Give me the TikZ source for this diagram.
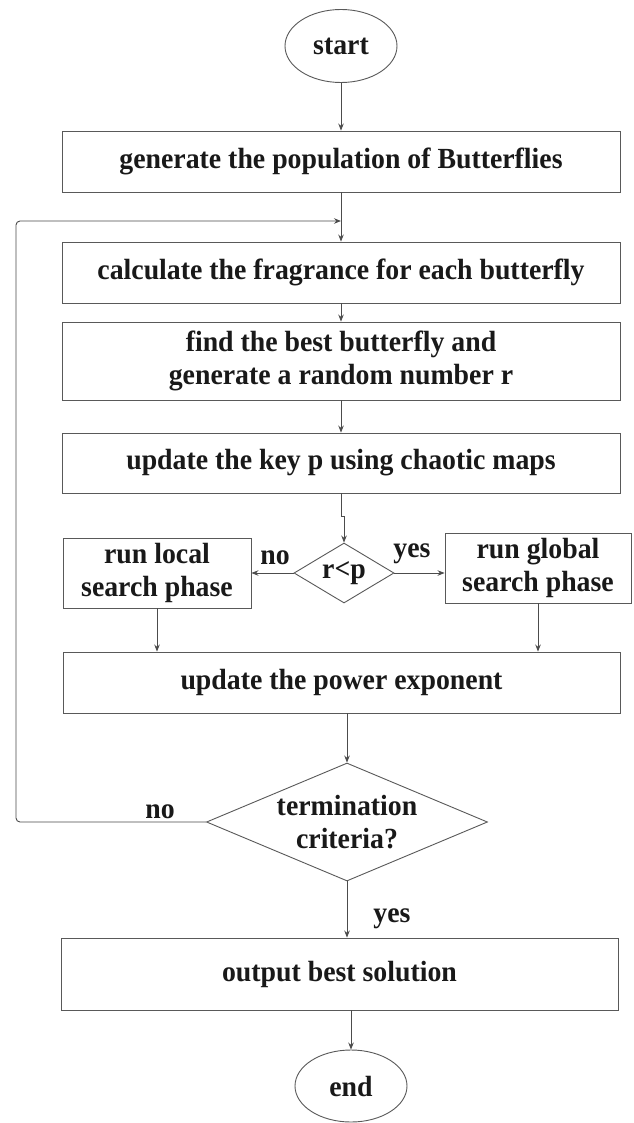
\documentclass[tikz,border=0pt]{standalone}
\usepackage{fontspec}
\setmainfont[FakeStretch=0.952]{Liberation Serif}
\usetikzlibrary{shapes.geometric,arrows.meta}
\begin{document}
\begin{tikzpicture}[x=1pt,y=-1pt,
  every node/.style={font=\fontsize{29.2}{33.5}\selectfont\bfseries, text=black!90, inner sep=0pt},
  boxnode/.style={draw=black!65, line width=0.9pt, rectangle, align=center},
  ovalnode/.style={draw=black!65, line width=0.9pt, ellipse, minimum width=112, minimum height=73},
  decision/.style={draw=black!65, line width=0.9pt, diamond, align=center},
  conn/.style={draw=black!70, line width=0.9pt},
  arr/.style={conn, -{Stealth[length=7pt,width=5.5pt]}}]
\fill[white] (0,0) rectangle (633,1123);
\useasboundingbox (0,0) rectangle (633,1123);

\node[ovalnode] (start) at (341,46) {start};
\node[boxnode, minimum width=558, minimum height=61] (b1) at (341,161.5) {generate the population of Butterflies};
\node[boxnode, minimum width=558, minimum height=61] (b2) at (341,272.5) {calculate the fragrance for each butterfly};
\node[boxnode, minimum width=558, minimum height=78] (b3) at (341,361) {find the best butterfly and\\generate a random number r};
\node[boxnode, minimum width=558, minimum height=60] (b4) at (341,463) {update the key p using chaotic maps};
\node[decision, minimum width=100, minimum height=60, aspect=1.67] (d1) at (344,573) {r<p};
\node[boxnode, minimum width=188, minimum height=70] (local) at (157,573) {run local\\search phase};
\node[boxnode, minimum width=186, minimum height=70] (global) at (538,568) {run global\\search phase};
\node[boxnode, minimum width=557, minimum height=61] (b5) at (341.5,682.5) {update the power exponent};
\node[decision, minimum width=281, minimum height=118, aspect=2.38] (d2) at (347,822) {termination\\criteria?};
\node[boxnode, minimum width=557, minimum height=72] (b6) at (339.5,974) {output best solution};
\node[ovalnode, minimum height=72] (end) at (351,1086) {end};

\coordinate (loopin) at (341,221);
\coordinate (loopl) at (16,221);

\draw[arr] (start.south) -- (b1.north);
\draw[arr] (b1.south) -- (b2.north);
\draw[arr, rounded corners=4pt] (d2.west) -| (loopl) -- (loopin);
\draw[arr] (b2.south) -- (b3.north);
\draw[arr] (b3.south) -- (b4.north);
\draw[arr] (b4.south) -- ++(0,23) -| (d1.north);
\draw[arr] (d1.west) -- (local.east);
\draw[arr] (d1.east) -- (d1.east -| global.west);
\draw[arr] (local.south) -- (local.south |- b5.north);
\draw[arr] (global.south) -- (global.south |- b5.north);
\draw[arr] (d2.north |- b5.south) -- (d2.north);
\draw[arr] (d2.south) -- (d2.south |- b6.north);
\draw[arr] (end.north |- b6.south) -- (end.north);

\node (nol) at (275,558) {no};
\node (yesr) at (412,554) {yes};
\node (noloop) at (160,812) {no};
\node (yesd) at (392,919) {yes};
\end{tikzpicture}
\end{document}
